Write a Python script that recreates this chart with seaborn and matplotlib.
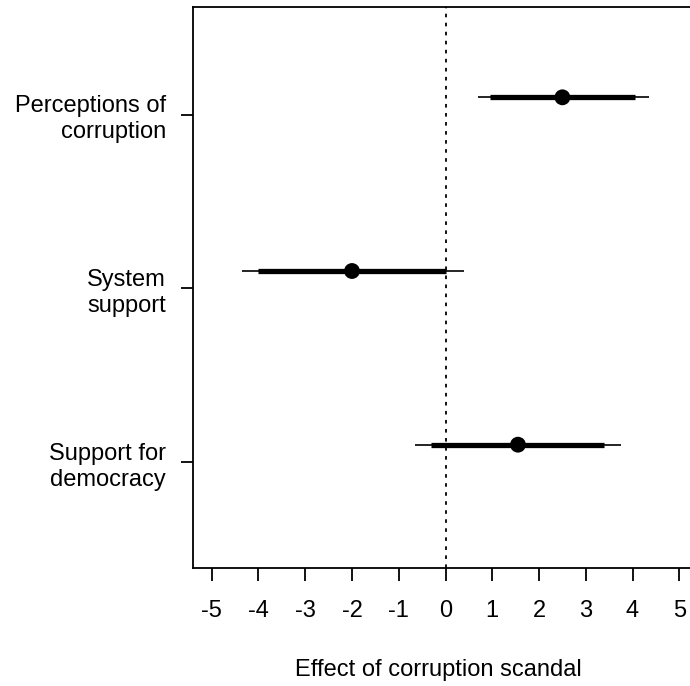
import matplotlib
matplotlib.use("Agg")
import matplotlib.pyplot as plt
import numpy as np
import pandas as pd
import seaborn as sns

# %%
outcomes = ["Perceptions of\ncorruption", "System\nsupport", "Support for\ndemocracy"]
estimate = [2.5, -2.0, 1.55]
lo90 = [0.95, -4.0, -0.3]
hi90 = [4.05, 0.0, 3.4]
lo95 = [0.7, -4.35, -0.65]
hi95 = [4.35, 0.4, 3.75]
xticks = [-5, -4, -3, -2, -1, 0, 1, 2, 3, 4, 5]

# %%
sns.set_style("ticks")
plt.rcParams["font.family"] = ["Liberation Sans", "DejaVu Sans"]

pos = np.arange(len(outcomes), 0, -1)
df = pd.DataFrame({"outcome": outcomes, "est": estimate, "y": pos + 0.1})

fig = plt.figure(figsize=(6.9, 6.86), dpi=100)
ax = fig.add_axes([193 / 690, 1 - 568 / 686, 505 / 690, 561 / 686])

ax.axvline(0, color="black", ls=(0, (2, 3)), lw=1.3, zorder=1)
ax.hlines(df["y"], lo95, hi95, color="black", lw=1.2, zorder=2)
ax.hlines(df["y"], lo90, hi90, color="black", lw=3.8, zorder=3)
sns.scatterplot(data=df, x="est", y="y", color="black", s=130, edgecolor="none",
                ax=ax, zorder=4, legend=False)

ax.set_xlim(-5.4, 5.4)
ax.set_ylim(0.39, 3.62)
ax.set_xticks(xticks)
ax.set_xticklabels([str(t) for t in xticks])
ax.set_yticks(pos)
ax.set_yticklabels(outcomes, ha="right", multialignment="right", linespacing=1.25)
ax.tick_params(axis="both", direction="out", length=9, width=1.3, colors="black",
               labelsize=17, pad=14)
ax.tick_params(axis="y", pad=10.5)
for s in ax.spines.values():
    s.set_linewidth(1.3)
    s.set_color("black")
ax.set_xlabel("Effect of corruption scandal", fontsize=17, color="black")
ax.xaxis.set_label_coords(0.486, -0.162)
ax.set_ylabel("")

fig.savefig("out.png", dpi=100)
